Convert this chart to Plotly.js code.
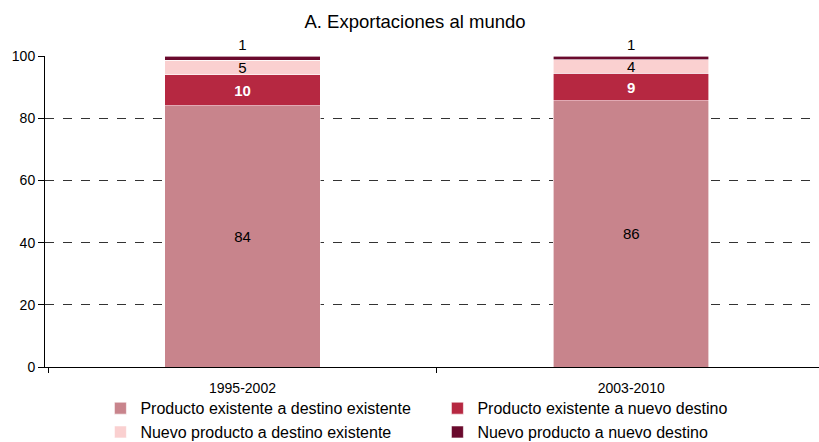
<!DOCTYPE html>
<html>
<head>
<meta charset="utf-8">
<script src="https://cdn.plot.ly/plotly-3.0.1.min.js"></script>
<style>html,body{margin:0;padding:0;background:#fff}#chart{width:819px;height:442px}</style>
</head>
<body>
<div id="chart"></div>
<script>
// Data
const categories = ['1995-2002', '2003-2010'];
const seriesNames = [
  'Producto existente a destino existente',
  'Producto existente a nuevo destino',
  'Nuevo producto a destino existente',
  'Nuevo producto a nuevo destino'
];
const prodExistDestExist = [84, 85.6];
const prodExistDestNuevo = [10, 8.8];
const prodNuevoDestExist = [4.6, 4.4];
const prodNuevoDestNuevo = [1.4, 1.2];
const yTicks = [0, 20, 40, 60, 80, 100];

const colors = ['#C8848C', '#B62841', '#FAD0D0', '#6A0A2D'];
const textColors = ['#000000', '#FFFFFF', '#000000', '#000000'];
const fontFam = 'Liberation Sans, Arial, sans-serif';
const values = [prodExistDestExist, prodExistDestNuevo, prodNuevoDestExist, prodNuevoDestNuevo];

const traces = values.map((v, i) => ({
  type: 'bar',
  name: seriesNames[i],
  x: categories,
  y: v,
  width: 0.4,
  marker: {color: colors[i], line: {color: '#ffffff', width: 0.6}},
  texttemplate: '%{y:.0f}',
  textposition: i === 3 ? 'outside' : 'inside',
  insidetextanchor: 'middle',
  textangle: 0,
  constraintext: 'none',
  cliponaxis: false,
  textfont: {family: fontFam, size: 15, color: textColors[i], weight: i === 1 ? 'bold' : 'normal'},
  hoverinfo: 'skip'
}));

const layout = {
  width: 819, height: 442,
  margin: {l: 44.5, r: 0, t: 56, b: 75, autoexpand: false},
  paper_bgcolor: '#ffffff', plot_bgcolor: '#ffffff',
  barmode: 'stack',
  font: {family: fontFam, size: 14, color: '#000'},
  title: {text: 'A. Exportaciones al mundo', font: {family: fontFam, size: 18.5, color: '#000'},
          x: 415 / 819, xref: 'container', xanchor: 'center', y: 1 - 22 / 442, yref: 'container', yanchor: 'middle'},
  xaxis: {
    type: 'category', range: [-0.508, 1.483],
    showline: true, linecolor: '#000', linewidth: 1,
    ticks: 'outside', tickson: 'boundaries', ticklen: 5, tickcolor: '#000',
    ticklabelstandoff: 8,
    showgrid: false, zeroline: false,
    tickfont: {family: fontFam, size: 14, color: '#000'}
  },
  yaxis: {
    range: [0, 100], tickvals: yTicks,
    showline: true, linecolor: '#000', linewidth: 1,
    ticks: 'outside', ticklen: 6, tickcolor: '#000',
    showgrid: true, gridcolor: '#000', griddash: 'dash', gridwidth: 0.8,
    zeroline: false,
    tickfont: {family: fontFam, size: 14, color: '#000'}
  },
  showlegend: true,
  legend: {
    orientation: 'h', traceorder: 'normal',
    x: 0.0716, xanchor: 'left', y: -0.078, yanchor: 'top',
    entrywidth: 292, entrywidthmode: 'pixels',
    bgcolor: 'rgba(0,0,0,0)',
    font: {family: fontFam, size: 16, color: '#000'},
    itemclick: false, itemdoubleclick: false, tracegroupgap: 0
  }
};

Plotly.newPlot('chart', traces, layout, {displayModeBar: false, staticPlot: true});
</script>
</body>
</html>
